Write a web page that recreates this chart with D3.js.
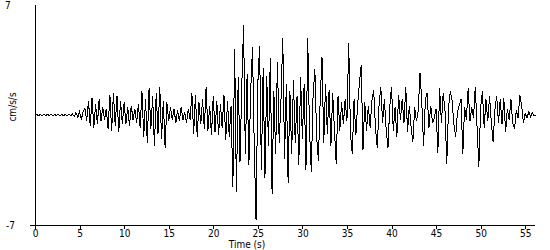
<!DOCTYPE html>
<html>
<head>
<meta charset="utf-8">
<script src="https://cdn.jsdelivr.net/npm/d3@7"></script>
<style>
  html, body { margin: 0; padding: 0; background: #fff; }
  svg { display: block; }
  text { font-family: "Liberation Sans Narrow", "DejaVu Sans Condensed", "Liberation Sans", sans-serif; font-size: 10px; fill: #000; }
</style>
</head>
<body>
<div id="chart"></div>
<script>
// Sample spacing (s) and accelerogram values (cm/s/s)
const DT = 0.2;
const accel = [
  0, 0.05, -0.05, 0.05, -0.05, 0.05, -0.05, 0.05, -0.05, 0.05,
  -0.05, 0.05, -0.05, 0.05, -0.05, 0.05, -0.05, 0.05, -0.05, 0.05,
  -0.05, 0.08, -0.1, 0.15, -0.15, 0.2, -0.3, 0.25, 0.4, -0.35,
  0.9, -0.7, 1.1, -0.8, 0.7, -0.6, 1.0, -0.4, 0.5, -0.3,
  0.4, -0.9, 1.3, -1.0, 1.4, -0.7, 1.2, -1.1, 0.9, -0.6,
  0.8, -0.6, 0.5, -0.7, 0.6, -0.3, 0.4, -0.5, 0.7, -0.8,
  1.5, -1.4, 1.0, -1.8, 1.7, -0.9, 1.2, -2.0, 1.4, -1.2,
  1.8, -1.5, 0.9, -2.1, 0.8, -0.4, 0.5, -0.3, 0.4, -0.5,
  0.3, -0.4, 0.5, -0.3, 0.2, -0.5, 0.4, -0.3, 1.4, -1.2,
  1.3, -1.4, 0.8, -0.6, 1.0, -0.9, 1.8, -1.0, 0.6, -1.3,
  1.2, -1.1, 0.9, -1.3, 0.7, -0.8, 1.3, -1.6, 0.9, -1.4,
  0.6, -4.6, 4.2, -4.9, 2.4, -3.0, 1.8, 5.7, -2.5, 2.6,
  -3.2, 1.5, 4.3, -2.0, -6.7, 2.0, 4.4, -3.5, 3.0, -4.0,
  2.5, -2.0, 3.6, -5.0, 1.5, -2.5, 3.4, -1.8, 1.0, 4.9,
  -2.8, 2.0, -4.3, 1.5, -2.5, 2.2, -1.8, 1.2, -3.2, 2.4,
  -1.5, 2.0, -3.5, 4.9, -1.0, -3.6, 1.2, 2.9, -1.4, -2.9,
  1.0, 3.7, -1.8, 2.0, -1.2, 1.6, -2.0, 1.4, -1.0, -3.1,
  1.2, -1.0, 0.8, -0.6, 1.0, -0.4, 4.6, -1.2, -2.5, 1.0,
  -1.3, 0.7, 2.0, 3.2, -2.2, 0.8, -1.0, 0.6, -0.8, 0.9,
  1.6, -0.8, -2.1, 0.6, 1.8, -0.5, 1.0, -0.9, -2.1, 0.5,
  1.8, -1.0, 0.5, -1.4, 1.3, -0.3, 1.0, -0.5, 1.8, -1.1,
  0.6, -0.8, -1.7, 0.5, -0.4, 0.3, 2.7, 0.8, -2.0, 1.0,
  1.4, -0.8, 0.6, -0.5, -0.2, 0.4, -2.4, 1.7, -0.5, 1.4,
  0.3, -3.1, 0.5, 1.5, 0.9, -0.6, -1.4, 0.2, 0.6, 1.0,
  -2.5, 0.5, -0.3, 1.7, -0.4, 0.5, -0.2, 1.8, -0.8, -3.3,
  0.5, 1.5, -0.8, 1.0, -0.4, 1.2, -0.5, -1.7, 0.3, 1.2,
  -0.5, 1.0, -0.6, 1.1, -1.1, 0.4, -0.3, 1.0, -0.5, -0.9,
  0.3, -0.2, 1.3, 0.6, -0.5, 0.1, -0.2, 0.2, -0.1, 0.15, -0.05, 0
];
const xTicks = [0, 5, 10, 15, 20, 25, 30, 35, 40, 45, 50, 55];
const yTickLabels = ["7", "-7"];

const width = 550, height = 250;
const plotLeft = 35, plotRight = 535, plotTop = 5, plotBottom = 225;

const svg = d3.select("#chart")
  .append("svg")
  .attr("width", width)
  .attr("height", height);

const x = d3.scaleLinear().domain([0, 56.1]).range([plotLeft, plotRight]);
const y = d3.scaleLinear().domain([-7, 7]).range([plotBottom, plotTop]);

// Trace
const line = d3.line()
  .x((d, i) => x(i * DT))
  .y(d => y(d));

svg.append("path")
  .datum(accel)
  .attr("d", line)
  .attr("fill", "none")
  .attr("stroke", "#000")
  .attr("stroke-width", 1)
  .attr("shape-rendering", "crispEdges");

// X axis: ticks and labels
const xAxis = svg.append("g")
  .attr("transform", `translate(0,${plotBottom})`)
  .call(d3.axisBottom(x).tickValues(xTicks).tickSize(4).tickPadding(1).tickFormat(d3.format("d")));
xAxis.select(".domain").remove();
xAxis.selectAll("line").attr("shape-rendering", "crispEdges");
xAxis.selectAll("text").attr("font-size", 10).attr("font-family", null);

svg.append("line")
  .attr("x1", plotLeft - 5).attr("x2", plotRight)
  .attr("y1", plotBottom + 0.5).attr("y2", plotBottom + 0.5)
  .attr("stroke", "#000")
  .attr("shape-rendering", "crispEdges");

// Y axis line
svg.append("line")
  .attr("x1", plotLeft + 0.5).attr("x2", plotLeft + 0.5)
  .attr("y1", plotTop).attr("y2", plotBottom)
  .attr("stroke", "#000")
  .attr("shape-rendering", "crispEdges");

// Y extremes only
svg.append("text")
  .attr("x", 5).attr("y", 9)
  .text(yTickLabels[0]);
svg.append("text")
  .attr("x", 6).attr("y", y(-7) + 4)
  .text(yTickLabels[1]);

// Axis titles
svg.append("text")
  .attr("x", 247).attr("y", 248)
  .attr("text-anchor", "middle")
  .text("Time (s)");

svg.append("text")
  .attr("transform", `translate(16,107) rotate(-90)`)
  .attr("text-anchor", "middle")
  .text("cm/s/s");
</script>
</body>
</html>
